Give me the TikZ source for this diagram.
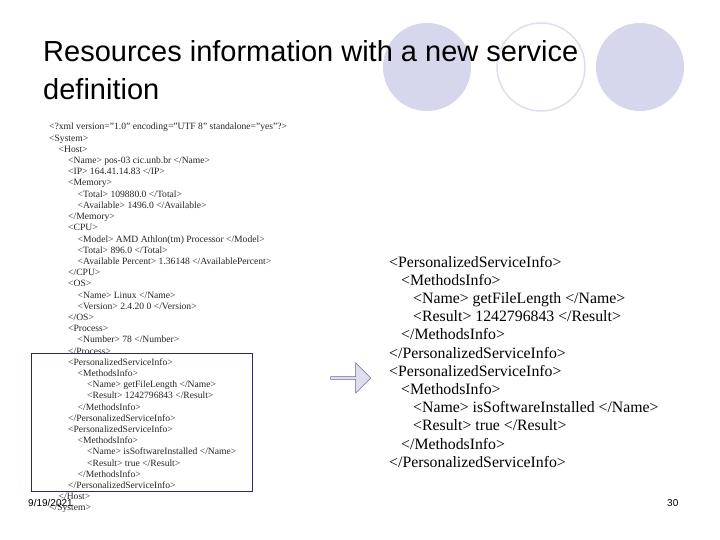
\documentclass[tikz,border=0pt]{standalone}
\usepackage{fontspec}
\setmainfont{Liberation Serif}
\newfontfamily\arial{Liberation Sans}
\usetikzlibrary{shapes.arrows}
\definecolor{lav}{RGB}{214,214,236}
\definecolor{lavline}{RGB}{222,222,238}
\definecolor{boxblue}{RGB}{40,40,120}
\tikzset{
  xl/.style={anchor=base west,inner sep=0,font=\fontsize{9.6}{10}\selectfont,text=black!85},
  xr/.style={anchor=base west,inner sep=0,font=\fontsize{15.8}{18}\selectfont},
  footer/.style={anchor=base west,inner sep=0,font=\arial\fontsize{10}{11}\selectfont}
}
\begin{document}
\begin{tikzpicture}[x=1pt,y=-1pt]
\useasboundingbox (0,0) rectangle (720,540);
\fill[white] (0,0) rectangle (720,540);
\fill[lav] (427,67) circle (44) coordinate (c1);
\draw[lavline,line width=1.5] (541,67) circle (44) coordinate (c2);
\fill[lav] (640,67) circle (44) coordinate (c3);
\node[anchor=base west,inner sep=0,font=\arial\fontsize{29}{38}\selectfont,align=left] (title) at (43,100) {Resources information with a new service\\definition};
\foreach \i/\ind/\t in {
0/0/{<?xml version="1.0" encoding="UTF 8" standalone="yes"?>},
1/0/{<System>},
2/1/{<Host>},
3/2/{<Name> pos-03 cic.unb.br </Name>},
4/2/{<IP> 164.41.14.83 </IP>},
5/2/{<Memory>},
6/3/{<Total> 109880.0 </Total>},
7/3/{<Available> 1496.0 </Available>},
8/2/{</Memory>},
9/2/{<CPU>},
10/3/{<Model> AMD Athlon(tm) Processor </Model>},
11/3/{<Total> 896.0 </Total>},
12/3/{<Available Percent> 1.36148 </AvailablePercent>},
13/2/{</CPU>},
14/2/{<OS>},
15/3/{<Name> Linux </Name>},
16/3/{<Version> 2.4.20 0 </Version>},
17/2/{</OS>},
18/2/{<Process>},
19/3/{<Number> 78 </Number>},
20/2/{</Process>},
21/2/{<PersonalizedServiceInfo>},
22/3/{<MethodsInfo>},
23/4/{<Name> getFileLength </Name>},
24/4/{<Result> 1242796843 </Result>},
25/3/{</MethodsInfo>},
26/2/{</PersonalizedServiceInfo>},
27/2/{<PersonalizedServiceInfo>},
28/3/{<MethodsInfo>},
29/4/{<Name> isSoftwareInstalled </Name>},
30/4/{<Result> true </Result>},
31/3/{</MethodsInfo>},
32/2/{</PersonalizedServiceInfo>},
33/1/{</Host>},
34/0/{</System>}}
  \node[xl] (l\i) at ({49+\ind*9.5},{130+\i*11.2}) {\t};
\foreach \i/\ind/\t in {
0/0/{<PersonalizedServiceInfo>},
1/1/{<MethodsInfo>},
2/2/{<Name> getFileLength </Name>},
3/2/{<Result> 1242796843 </Result>},
4/1/{</MethodsInfo>},
5/0/{</PersonalizedServiceInfo>},
6/0/{<PersonalizedServiceInfo>},
7/1/{<MethodsInfo>},
8/2/{<Name> isSoftwareInstalled </Name>},
9/2/{<Result> true </Result>},
10/1/{</MethodsInfo>},
11/0/{</PersonalizedServiceInfo>}}
  \node[xr] (r\i) at ({389+\ind*12},{267+\i*18.2}) {\t};
\draw[boxblue,line width=0.8] (31,353) rectangle (252,491) coordinate (boxc);
\node[single arrow,draw=boxblue!70,fill=lav!80,line width=0.6,minimum height=40,minimum width=30,single arrow head extend=3,inner sep=0] (arr) at (350,378) {};
\node[footer] (date) at (28,506) {9/19/2021};
\node[footer] (pg) at (667,506) {30};
\end{tikzpicture}
\end{document}
